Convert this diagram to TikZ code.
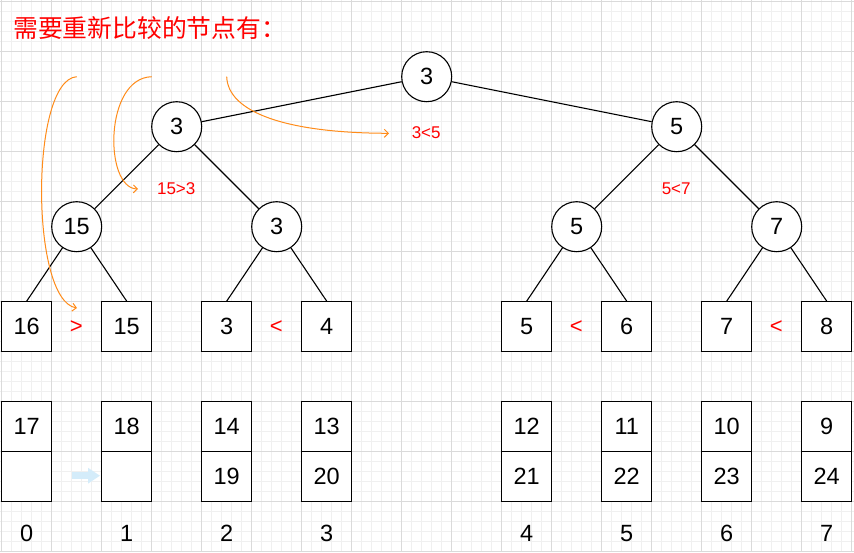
\documentclass[tikz,border=0pt]{standalone}
\usepackage{fontspec}
\setmainfont{Liberation Sans}
\newfontfamily\cjk{Noto Sans CJK SC}
\usetikzlibrary{arrows.meta}
\definecolor{swaporange}{RGB}{255,140,26}
\definecolor{movecyan}{RGB}{212,236,250}
\definecolor{gridmajor}{RGB}{218,218,218}
\definecolor{gridminor}{RGB}{240,240,240}

\begin{document}
\begin{tikzpicture}[x=1pt,y=-1pt]
  \tikzstyle{every node}=[inner sep=0pt,font=\fontsize{23.5}{24}\selectfont]
  \tikzstyle{heap}=[draw,shape=circle,minimum size=50pt,line width=1.1pt,fill=white]
  \tikzstyle{cell}=[draw,shape=rectangle,minimum size=50pt,line width=1.1pt,fill=white]
  \tikzstyle{edge}=[line width=1.1pt]
  \tikzstyle{cmp}=[text=red,font=\fontsize{17}{17}\selectfont]
  \tikzstyle{bigcmp}=[text=red,font=\fontsize{22}{22}\selectfont]
  \tikzstyle{swap}=[draw=swaporange,line width=1pt,-{Straight Barb[length=4pt,width=8pt]}]
  \tikzstyle{move}=[draw=movecyan,line width=6.5pt,-{Triangle[length=12pt,width=15pt]}]
  \useasboundingbox (0,0) rectangle (854,552);
  \fill[white] (0,0) rectangle (854,552);
% background grid
  \foreach \i in {0,...,85} \draw[gridminor,line width=1pt] ({1.7+10*\i},0) -- ({1.7+10*\i},552);
  \foreach \i in {0,...,55} \draw[gridminor,line width=1pt] (0,{1.7+10*\i}) -- (854,{1.7+10*\i});
  \foreach \i in {0,...,17} \draw[gridmajor,line width=1pt] ({1.7+50*\i},0) -- ({1.7+50*\i},552);
  \foreach \i in {0,...,11} \draw[gridmajor,line width=1pt] (0,{1.7+50*\i}) -- (854,{1.7+50*\i});
% title
  \node[anchor=base west,text=red,font=\cjk\fontsize{24.8}{25}\selectfont] (title) at (13,37.8) {需要重新比较的节点有：};
% tree
  \node[heap] (root) at (426.7, 76.7) {3};
  \node[heap] (l3)   at (176.7,126.7) {3};
  \node[heap] (r5)   at (676.7,126.7) {5};
  \node[heap] (n15)  at ( 76.7,226.7) {15};
  \node[heap] (n3)   at (276.7,226.7) {3};
  \node[heap] (n5)   at (576.7,226.7) {5};
  \node[heap] (n7)   at (776.7,226.7) {7};
  \foreach \k/\x/\v in {0/26.7/16,1/126.7/15,2/226.7/3,3/326.7/4,
                        4/526.7/5,5/626.7/6,6/726.7/7,7/826.7/8}{
    \node[cell] (leaf\k) at (\x,326.7) {\v};
  }
  \foreach \a/\b in {root/l3,root/r5,l3/n15,l3/n3,r5/n5,r5/n7}{
    \draw[edge] (\a) -- (\b);
  }
  \foreach \a/\b in {n15/0,n15/1,n3/2,n3/3,n5/4,n5/5,n7/6,n7/7}{
    \draw[edge] (\a) -- (leaf\b.north);
  }
% arrays below
  \foreach \k/\x/\t/\b in {0/26.7/17/{},1/126.7/18/{},2/226.7/14/19,3/326.7/13/20,
                           4/526.7/12/21,5/626.7/11/22,6/726.7/10/23,7/826.7/9/24}{
    \node[cell] (top\k) at (\x,426.7) {\t};
    \node[cell] (bot\k) at (\x,476.7) {\b};
    \node (idx\k) at (\x,533.3) {\k};
  }
% comparisons
  \node[bigcmp] (gt01) at ( 76.2,327) {>};
  \node[bigcmp] (lt23) at (276.2,327) {<};
  \node[bigcmp] (lt45) at (576.2,327) {<};
  \node[bigcmp] (lt67) at (776.2,327) {<};
  \node[cmp] (cmpa) at (176.2,188.7) {15>3};
  \node[cmp] (cmpb) at (426.2,133)   {3<5};
  \node[cmp] (cmpc) at (676.2,188.7) {5<7};
% nodes to compare again
  \coordinate (s1) at ( 76.7,76.7);  \coordinate (e1) at ( 77,308);
  \coordinate (s2) at (151.7,76.7);  \coordinate (e2) at (138,189);
  \coordinate (s3) at (226.7,76.7);  \coordinate (e3) at (389,133.3);
  \draw[swap] (s1) .. controls (30,80) and (30,300) .. (e1);
  \draw[swap] (s2) .. controls (104,78) and (104,188) .. (e2);
  \draw[swap] (s3) .. controls (228,112) and (285,133) .. (e3);
  \coordinate (m0) at (72,475.7);  \coordinate (m1) at (100,475.7);
  \draw[move] (m0) -- (m1);
\end{tikzpicture}
\end{document}
